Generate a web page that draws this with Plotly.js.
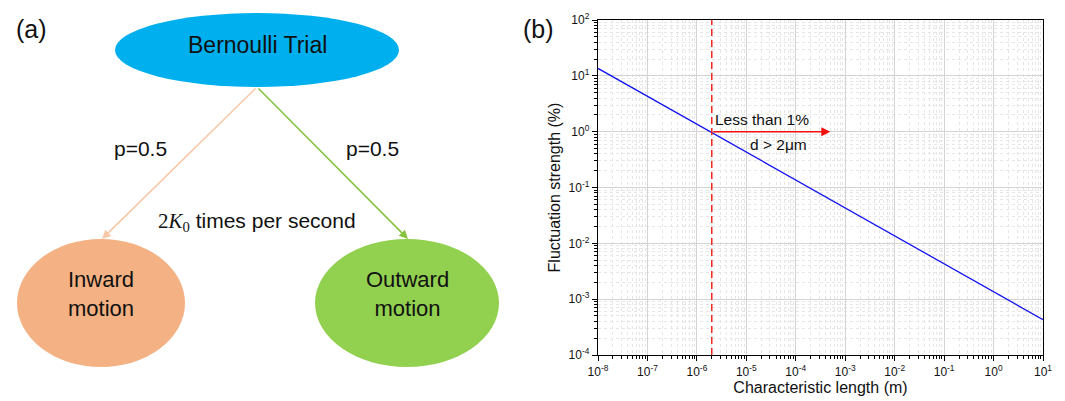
<!DOCTYPE html>
<html><head><meta charset="utf-8">
<script src="https://cdn.plot.ly/plotly-3.0.1.min.js"></script>
<style>html,body{margin:0;padding:0;background:#fff;overflow:hidden}</style>
</head><body><div id="chart" style="width:1065px;height:401px"></div>
<script>
// ---- data (panel b) ----
const lengthM = [1e-8, 1e-7, 1e-6, 1e-5, 1e-4, 1e-3, 1e-2, 1e-1, 1e0, 1e1];
const fluctuationPct = [13.6, 4.3, 1.36, 0.43, 0.136, 0.043, 0.0136, 0.0043, 0.00136, 0.00043];
const thresholdLength = 2e-6;   // d = 2 µm
const thresholdPct = 1;         // 1 %
const arrowEndLength = 5e-4;
const xTickVals = [1e-8, 1e-7, 1e-6, 1e-5, 1e-4, 1e-3, 1e-2, 1e-1, 1e0, 1e1];
const xTickText = ['10<sup>-8</sup>','10<sup>-7</sup>','10<sup>-6</sup>','10<sup>-5</sup>','10<sup>-4</sup>','10<sup>-3</sup>','10<sup>-2</sup>','10<sup>-1</sup>','10<sup>0</sup>','10<sup>1</sup>'];
const yTickVals = [1e-4, 1e-3, 1e-2, 1e-1, 1e0, 1e1, 1e2];
const yTickText = ['10<sup>-4</sup>','10<sup>-3</sup>','10<sup>-2</sup>','10<sup>-1</sup>','10<sup>0</sup>','10<sup>1</sup>','10<sup>2</sup>'];

// ---- diagram text (panel a) ----
const rootLabel = 'Bernoulli Trial';
const leftLabel = 'Inward<br>motion';
const rightLabel = 'Outward<br>motion';
const probLabel = 'p=0.5';
const rateLabel = '<span style="font-family:Liberation Serif,serif">2<i>K</i><sub>0</sub></span> times per second';

const W = 1065, H = 401;
const px = x => x / W;
const py = y => 1 - y / H;
const FONT = 'Liberation Sans, Arial, sans-serif';

const trace = {
  x: lengthM, y: fluctuationPct, type: 'scatter', mode: 'lines',
  line: {color: '#1414f0', width: 1.3}, hoverinfo: 'skip', showlegend: false
};

function ellipse(cx, cy, rx, ry, color) {
  return {type: 'circle', xref: 'paper', yref: 'paper',
    x0: px(cx - rx), x1: px(cx + rx), y0: py(cy + ry), y1: py(cy - ry),
    fillcolor: color, line: {width: 0}, layer: 'below'};
}
function label(x, y, text, size, extra) {
  return Object.assign({xref: 'paper', yref: 'paper', x: px(x), y: py(y), text: text,
    showarrow: false, xanchor: 'center', yanchor: 'middle',
    font: {family: FONT, size: size, color: '#111'}}, extra || {});
}
function arrow(hx, hy, tx, ty, color) {
  return {xref: 'paper', yref: 'paper', x: px(hx), y: py(hy), text: ' ',
    showarrow: true, axref: 'pixel', ayref: 'pixel', ax: tx - hx, ay: ty - hy,
    arrowcolor: color, arrowwidth: 1.6, arrowhead: 2, arrowsize: 1.1,
    standoff: 0, startstandoff: 0, font: {size: 1}};
}

const axisCommon = {
  type: 'log', showline: true, linecolor: '#000', linewidth: 1.2, mirror: true,
  ticks: 'outside', ticklen: 5, tickwidth: 1, tickcolor: '#000',
  showgrid: true, gridcolor: '#d4d4d4', gridwidth: 1, zeroline: false,
  tickmode: 'array', tickfont: {family: FONT, size: 12, color: '#111'},
  minor: {dtick: 'D1', ticks: 'outside', ticklen: 3, tickcolor: '#000', tickwidth: 1,
          showgrid: true, gridcolor: '#e6e6e6', gridwidth: 1, griddash: 'dot'}
};

const layout = {
  width: W, height: H, margin: {l: 0, r: 0, t: 0, b: 0},
  paper_bgcolor: '#fff', plot_bgcolor: '#fff',
  font: {family: FONT, color: '#111'},
  xaxis: Object.assign({}, axisCommon, {
    domain: [598 / W, 1043 / W], range: [-8, 1],
    tickvals: xTickVals, ticktext: xTickText,
    title: {text: 'Characteristic length (m)', font: {family: FONT, size: 16, color: '#111'}, standoff: 4}
  }),
  yaxis: Object.assign({}, axisCommon, {
    domain: [1 - 355 / H, 1 - 20 / H], range: [-4, 2],
    tickvals: yTickVals, ticktext: yTickText,
    title: {text: 'Fluctuation strength (%)', font: {family: FONT, size: 16, color: '#111'}, standoff: 4}
  }),
  shapes: [
    {type: 'line', xref: 'x', yref: 'y domain', x0: thresholdLength, x1: thresholdLength, y0: 0, y1: 1,
     line: {color: '#f0281e', width: 1.5, dash: '7px,4px'}},
    ellipse(257, 50, 142, 37, '#00B0EE'),
    ellipse(101, 303, 84, 64, '#F4B183'),
    ellipse(407, 303, 92, 64, '#92D050')
  ],
  annotations: [
    // panel b arrow & notes
    {xref: 'x', yref: 'y', x: Math.log10(arrowEndLength), y: Math.log10(thresholdPct),
     axref: 'x', ayref: 'y', ax: Math.log10(thresholdLength), ay: Math.log10(thresholdPct),
     text: ' ', font: {size: 1}, showarrow: true, arrowcolor: '#f01010', arrowwidth: 1.5, arrowhead: 2, arrowsize: 1.2,
     standoff: 0, startstandoff: 0},
    label(713, 119, 'Less than 1%', 15.5, {xanchor: 'left'}),
    label(778, 144, 'd &gt; 2μm', 15.5),
    label(538, 29, '(b)', 25),
    // panel a
    label(31, 29, '(a)', 25),
    arrow(102, 239, 257, 87, '#F6C8A8'),
    arrow(408, 239, 257, 87, '#86C440'),
    label(257, 45, rootLabel, 23),
    label(140, 148, probLabel, 21),
    label(372, 148, probLabel, 21),
    label(257, 222, rateLabel, 21),
    label(101, 294, leftLabel, 22),
    label(407, 294, rightLabel, 22)
  ]
};

Plotly.newPlot('chart', [trace], layout, {displayModeBar: false, staticPlot: true});
</script>
</body></html>
